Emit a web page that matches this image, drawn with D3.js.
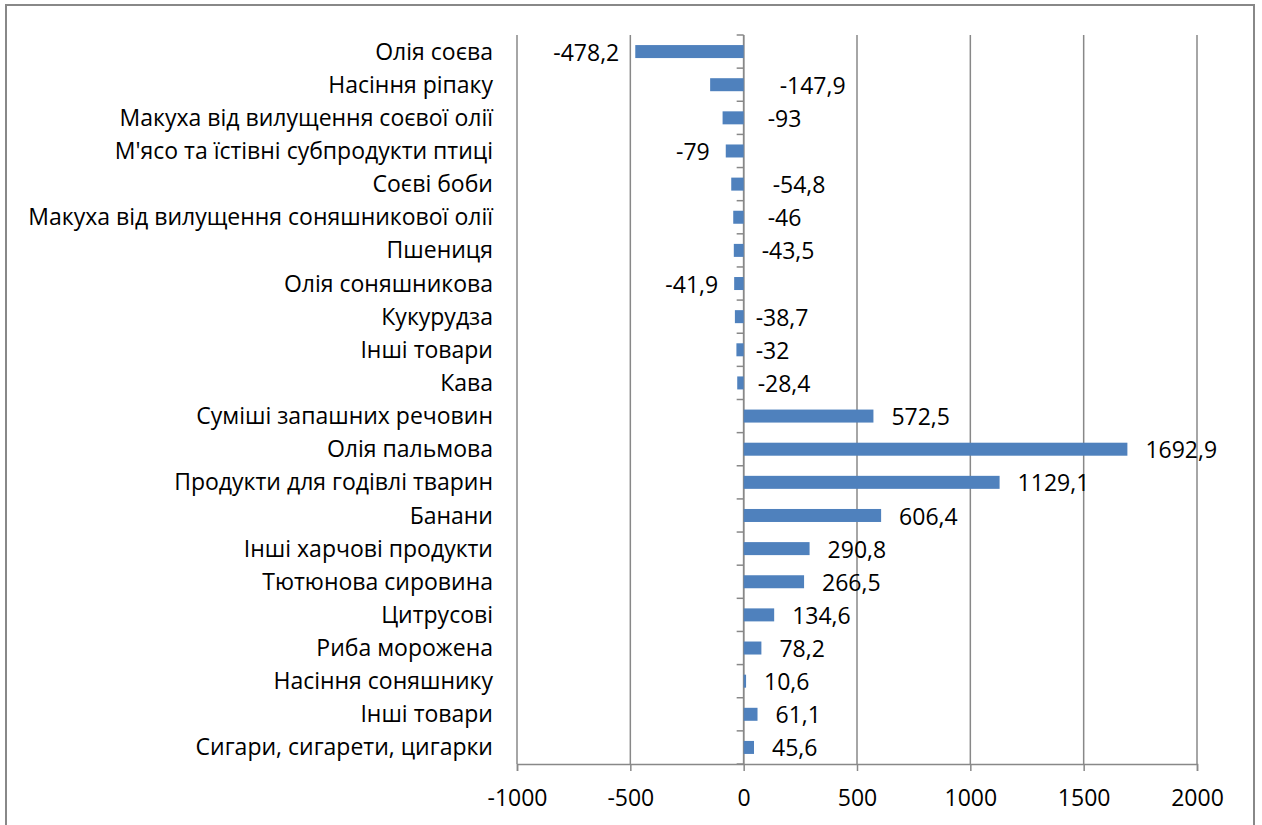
<!DOCTYPE html>
<html>
<head>
<meta charset="utf-8">
<script src="https://cdnjs.cloudflare.com/ajax/libs/d3/7.8.5/d3.min.js"></script>
<style>
  body { margin: 0; background: #fff; }
  text { font-family: "Open Sans", "Noto Sans", sans-serif; fill: #000; }
</style>
</head>
<body>
<svg class="chart"></svg>
<script>
// categories, top to bottom
var categories = [
  "Олія соєва",
  "Насіння ріпаку",
  "Макуха від вилущення соєвої олії",
  "М'ясо та їстівні субпродукти птиці",
  "Соєві боби",
  "Макуха від вилущення соняшникової олії",
  "Пшениця",
  "Олія соняшникова",
  "Кукурудза",
  "Інші товари",
  "Кава",
  "Суміші запашних речовин",
  "Олія пальмова",
  "Продукти для годівлі тварин",
  "Банани",
  "Інші харчові продукти",
  "Тютюнова сировина",
  "Цитрусові",
  "Риба морожена",
  "Насіння соняшнику",
  "Інші товари",
  "Сигари, сигарети, цигарки"
];
var values = [-478.2, -147.9, -93, -79, -54.8, -46, -43.5, -41.9, -38.7, -32, -28.4,
  572.5, 1692.9, 1129.1, 606.4, 290.8, 266.5, 134.6, 78.2, 10.6, 61.1, 45.6];
var labels = ["-478,2", "-147,9", "-93", "-79", "-54,8", "-46", "-43,5", "-41,9", "-38,7", "-32", "-28,4",
  "572,5", "1692,9", "1129,1", "606,4", "290,8", "266,5", "134,6", "78,2", "10,6", "61,1", "45,6"];
var xTicks = [-1000, -500, 0, 500, 1000, 1500, 2000];

// some labels of small negative bars were dragged right of the axis in the original
var moveDx = {1: 36, 2: 24, 4: 29, 5: 24, 6: 18, 8: 12, 9: 12, 10: 14};

var svgWidth = 1262, svgHeight = 825;
var margin = {top: 35, right: 65, bottom: 61, left: 517};
var width = svgWidth - margin.left - margin.right;
var height = svgHeight - margin.top - margin.bottom;
var fontSize = '23px';

var svg = d3.select('.chart')
  .attr('width', svgWidth)
  .attr('height', svgHeight);

// outer frame
svg.append('rect')
  .attr('x', 6).attr('y', 5)
  .attr('width', 1248).attr('height', 830)
  .attr('fill', 'none')
  .attr('stroke', '#888')
  .attr('stroke-width', 2);

var g = svg.append('g')
  .attr('transform', 'translate(' + margin.left + ',' + margin.top + ')');

var x = d3.scaleLinear()
  .domain([-1000, 2000])
  .range([0, width]);

var y = d3.scaleBand()
  .domain(d3.range(categories.length))
  .range([0, height]);

// vertical gridlines
g.append('g')
  .selectAll('line')
  .data(xTicks)
  .enter()
  .append('line')
  .attr('x1', function(d) { return x(d); })
  .attr('x2', function(d) { return x(d); })
  .attr('y1', 0)
  .attr('y2', height)
  .attr('stroke', '#888')
  .attr('stroke-width', 1.5);

// x axis
var xAxis = g.append('g')
  .attr('transform', 'translate(0,' + height + ')')
  .call(d3.axisBottom(x).tickValues(xTicks).tickSize(7).tickPadding(19)
    .tickFormat(function(d) { return d; }));
xAxis.select('.domain').attr('stroke', '#888').attr('stroke-width', 1.5);
xAxis.selectAll('.tick line').attr('stroke', '#888').attr('stroke-width', 1.5);
xAxis.selectAll('.tick text')
  .attr('font-size', fontSize)
  .style('font-family', '"Open Sans", sans-serif');

// category axis at zero with ticks between bands
var catAxis = g.append('g')
  .attr('transform', 'translate(' + x(0) + ',0)');
catAxis.append('line')
  .attr('x1', 0).attr('x2', 0)
  .attr('y1', 0).attr('y2', height)
  .attr('stroke', '#888').attr('stroke-width', 1.5);
catAxis.selectAll('.cat-tick')
  .data(d3.range(categories.length + 1))
  .enter()
  .append('line')
  .attr('class', 'cat-tick')
  .attr('x1', -7).attr('x2', 0)
  .attr('y1', function(i) { return i * y.step(); })
  .attr('y2', function(i) { return i * y.step(); })
  .attr('stroke', '#888').attr('stroke-width', 1.5);

// category labels
svg.append('g')
  .selectAll('text')
  .data(categories)
  .enter()
  .append('text')
  .attr('x', 493)
  .attr('y', function(d, i) { return margin.top + y(i) + y.bandwidth() / 2; })
  .attr('dy', '0.35em')
  .attr('text-anchor', 'end')
  .attr('font-size', fontSize)
  .text(function(d) { return d; });

// bars
var barH = 13;
g.selectAll('.bar')
  .data(values)
  .enter()
  .append('rect')
  .attr('class', 'bar')
  .attr('x', function(d) { return x(Math.min(0, d)); })
  .attr('y', function(d, i) { return y(i) + y.bandwidth() / 2 - barH / 2; })
  .attr('width', function(d) { return Math.abs(x(d) - x(0)); })
  .attr('height', barH)
  .attr('fill', '#4f81bd');

// value labels
g.selectAll('.val')
  .data(values)
  .enter()
  .append('text')
  .attr('class', 'val')
  .attr('x', function(d, i) {
    if (moveDx[i] !== undefined) return x(0) + moveDx[i];
    return d < 0 ? x(d) - 16 : x(d) + 18;
  })
  .attr('y', function(d, i) { return y(i) + y.bandwidth() / 2 + 1; })
  .attr('dy', '0.35em')
  .attr('text-anchor', function(d, i) {
    return (d < 0 && moveDx[i] === undefined) ? 'end' : 'start';
  })
  .attr('font-size', fontSize)
  .text(function(d, i) { return labels[i]; });
</script>
</body>
</html>
